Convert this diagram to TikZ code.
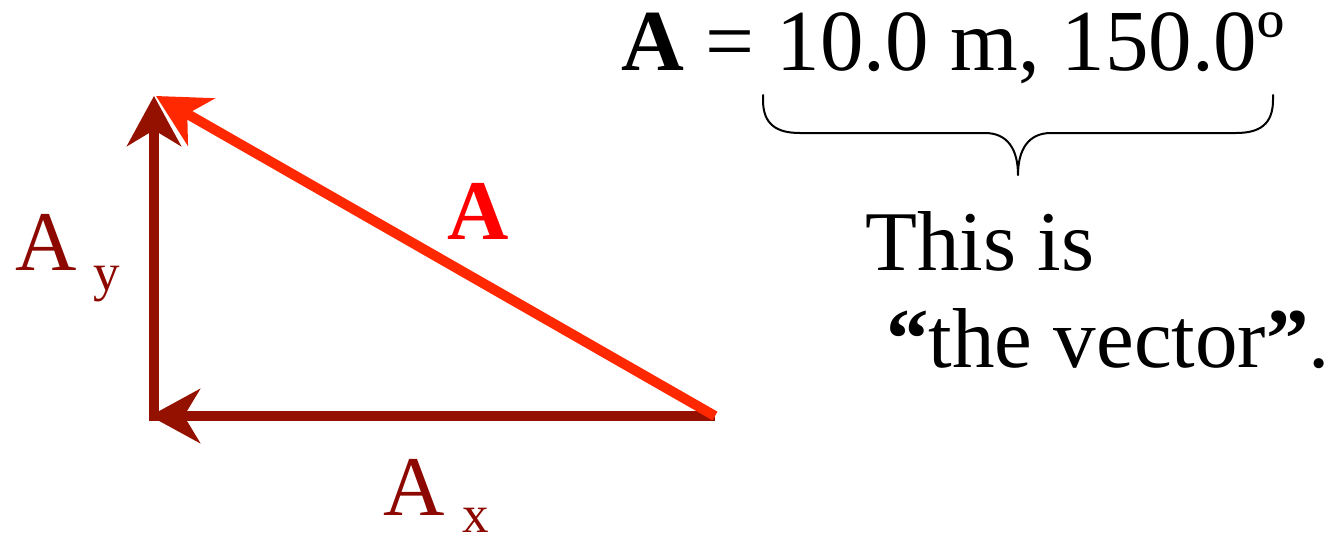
\documentclass[tikz,border=0pt]{standalone}
\usepackage{fontspec}
\setmainfont{Liberation Serif}
\usetikzlibrary{arrows.meta}
\definecolor{darkred}{RGB}{148,17,0}
\definecolor{vecred}{RGB}{255,40,0}
\definecolor{labred}{RGB}{255,0,0}
\definecolor{comptext}{RGB}{140,8,0}
\tikzset{
  bigtxt/.style={font=\fontsize{85}{100}\selectfont, inner sep=0pt, anchor=base west},
  subtxt/.style={font=\fontsize{53}{60}\selectfont, inner sep=0pt, anchor=base west},
  comp/.style={line width=10pt, color=darkred, -{Stealth[length=50pt, width=54pt, inset=16pt]}},
  vecline/.style={line width=10pt, color=vecred, -{Stealth[length=52pt, width=54pt, inset=16pt]}},
  bracestyle/.style={line width=2pt, line join=round, line cap=round}
}
\begin{document}
\begin{tikzpicture}[x=1pt,y=-1pt]
\useasboundingbox (0,0) rectangle (1344,542);
% corner points
\coordinate (O) at (715,416);
\coordinate (C) at (154,416);
\coordinate (Th) at (150,416);
\coordinate (Tv) at (154,96);
\coordinate (Ta) at (156,96);
% components
\draw[comp] (O) -- (Th);
\draw[comp, shorten <=-5pt] (C) -- (Tv);
% vector
\draw[vecline] (O) -- (Ta);
% labels
\node[bigtxt, text=labred] (la) at (447,239) {\textbf{A}};
\node[bigtxt, text=comptext] (lay) at (15,270) {A};
\node[subtxt, text=comptext] (lays) at (93,290) {y};
\node[bigtxt, text=comptext] (lax) at (383,515) {A};
\node[subtxt, text=comptext, text depth=0pt] (laxs) at (462,532) {x};
% statement
\node[bigtxt, font=\fontsize{87}{100}\selectfont] (stmt) at (621,70) {\textbf{A} = 10.0 m, 150.0º};
\node[bigtxt] (l1) at (865,270) {This is};
\node[bigtxt] (l2) at (886,367) {\textbf{“}the vector\textbf{”}.};
% brace
\coordinate (bl) at (763,95);
\coordinate (br) at (1273,95);
\coordinate (bt) at (1018,175);
\draw[bracestyle] (bl) -- (763,100) .. controls (763,124) and (776,133) .. (800,133) -- (985,133) .. controls (1008,133) and (1018,150) .. (bt)
  .. controls (1018,150) and (1028,133) .. (1051,133) -- (1236,133) .. controls (1260,133) and (1273,124) .. (1273,100) -- (br);
\end{tikzpicture}
\end{document}
